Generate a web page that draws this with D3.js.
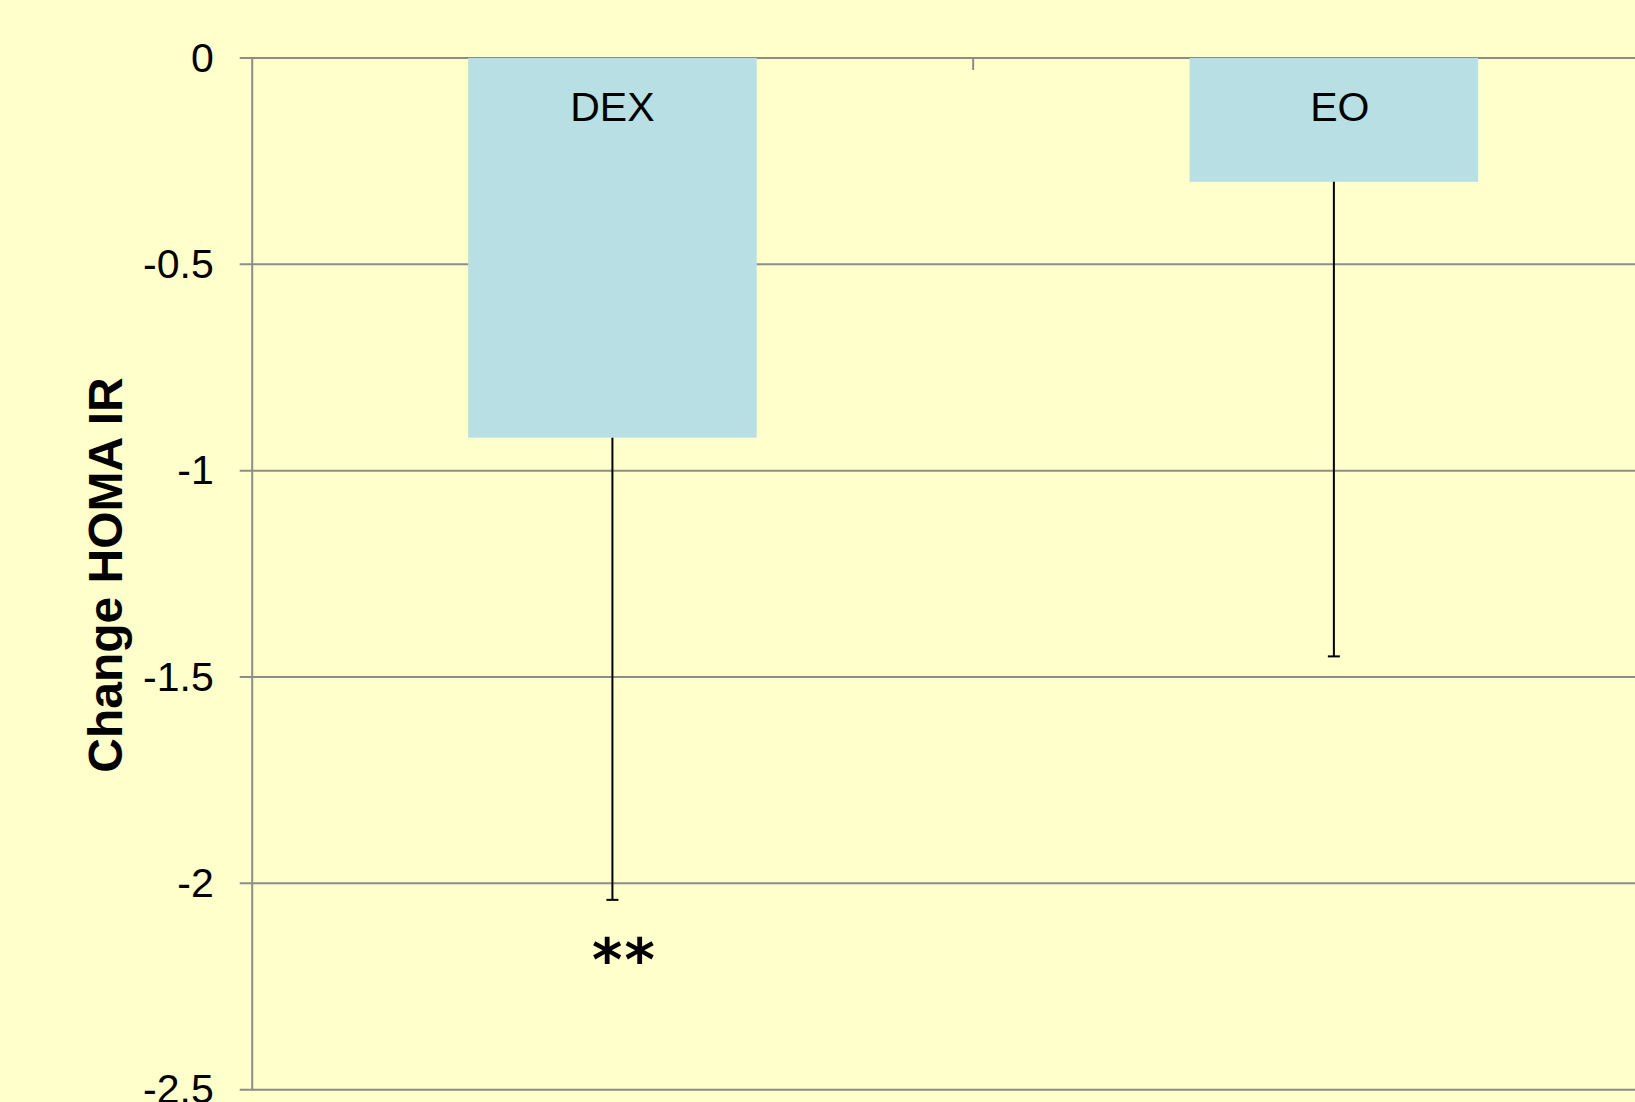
<!DOCTYPE html>
<html><head><meta charset="utf-8">
<script src="https://cdn.jsdelivr.net/npm/d3@7"></script>
<style>html,body{margin:0;padding:0;background:#FFFFCC;overflow:hidden}</style>
</head><body>
<svg id="c" width="1635" height="1102"></svg>
<script>
const categories = ["DEX", "EO"];
const values = [-0.92, -0.30];
const errorLow = [-2.04, -1.45];
const yTicks = [0, -0.5, -1, -1.5, -2, -2.5];
const yTickLabels = ["0", "-0.5", "-1", "-1.5", "-2", "-2.5"];
const annotations = ["**", ""];
const yTitle = "Change HOMA IR";

const svg = d3.select("#c");
svg.append("rect").attr("width",1635).attr("height",1102).attr("fill","#FFFFCC");
const x0 = 251.7, x1 = 1694.6;
const y = d3.scaleLinear().domain([0,-2.5]).range([58,1089.7]);
const x = d3.scaleBand().domain(categories).range([x0,x1]).paddingInner(0.6).paddingOuter(0.3);
const grid = "#8C8C8C";

// gridlines
svg.append("g").selectAll("line").data(yTicks).join("line")
  .attr("x1",x0-12).attr("x2",1700)
  .attr("y1",d=>y(d)).attr("y2",d=>y(d))
  .attr("stroke",grid).attr("stroke-width",2);

// y axis
const yAxis = d3.axisLeft(y).tickValues(yTicks).tickSize(0).tickPadding(38)
  .tickFormat((d,i)=>yTickLabels[i]);
const ga = svg.append("g").attr("transform",`translate(${x0},0)`).call(yAxis);
ga.select(".domain").attr("stroke",grid).attr("stroke-width",2);
ga.selectAll("text").attr("font-family","Liberation Sans, Arial, sans-serif")
  .attr("font-size",41).attr("fill","#000");

// category boundary tick
const bounds = [x0 + x.step()];
svg.append("g").selectAll("line").data(bounds).join("line")
  .attr("x1",d=>d).attr("x2",d=>d).attr("y1",y(0)).attr("y2",y(0)+12)
  .attr("stroke",grid).attr("stroke-width",2);

// bars
svg.append("g").selectAll("rect").data(categories).join("rect")
  .attr("x",d=>x(d)).attr("width",x.bandwidth())
  .attr("y",y(0)).attr("height",(d,i)=>y(values[i])-y(0))
  .attr("fill","#B8E0E4");

// error bars
const eg = svg.append("g").attr("stroke","#000").attr("stroke-width",2);
categories.forEach((c,i)=>{
  const cx = x(c)+x.bandwidth()/2;
  eg.append("line").attr("x1",cx).attr("x2",cx).attr("y1",y(values[i])).attr("y2",y(errorLow[i]));
  eg.append("line").attr("x1",cx-6).attr("x2",cx+6).attr("y1",y(errorLow[i])).attr("y2",y(errorLow[i]));
});

// category labels
svg.append("g").selectAll("text").data(categories).join("text")
  .attr("x",(d,i)=>x(d)+x.bandwidth()/2+(i===1?6:0)).attr("y",y(0)+63)
  .attr("text-anchor","middle")
  .attr("font-family","Liberation Sans, Arial, sans-serif").attr("font-size",41)
  .text(d=>d);

// significance
svg.append("g").selectAll("text").data(categories).join("text")
  .attr("x",(d,i)=>x(d)+x.bandwidth()/2+12).attr("y",(d,i)=>y(errorLow[i])+80)
  .attr("text-anchor","middle")
  .attr("font-family","DejaVu Sans, sans-serif").attr("font-weight","bold").attr("font-size",58)
  .attr("letter-spacing",2)
  .text((d,i)=>annotations[i]);

// y title
svg.append("text").attr("transform",`translate(122,575) rotate(-90)`)
  .attr("text-anchor","middle")
  .attr("font-family","Liberation Sans, Arial, sans-serif").attr("font-weight","bold").attr("font-size",48)
  .text(yTitle);
</script>
</body></html>
